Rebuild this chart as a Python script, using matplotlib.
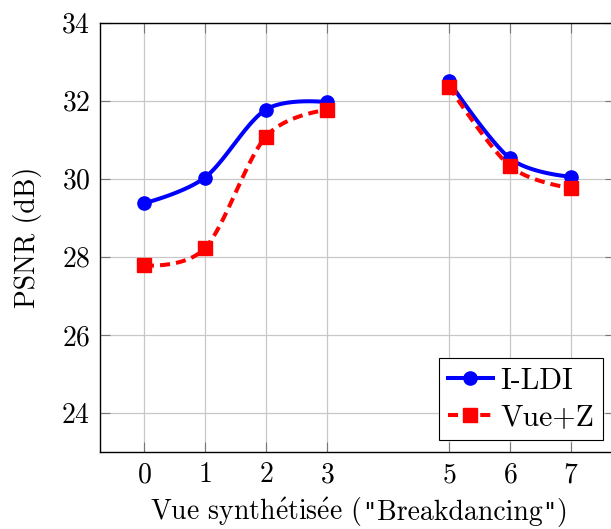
import numpy as np
import matplotlib
matplotlib.use('Agg')
import matplotlib.pyplot as plt
from matplotlib.lines import Line2D
from matplotlib.offsetbox import TextArea, HPacker, AnnotationBbox

plt.rcParams['font.family'] = ['cmr10', 'DejaVu Serif']
plt.rcParams['mathtext.fontset'] = 'cm'
plt.rcParams['axes.formatter.use_mathtext'] = True

# data (two separate segments: views 0-3 and 5-7)
views = [0, 1, 2, 3, 5, 6, 7]
psnr_ildi = [29.37, 30.03, 31.77, 31.96, 32.49, 30.52, 30.05]
psnr_vuez = [27.78, 28.22, 31.08, 31.76, 32.36, 30.32, 29.76]
segments = [(0, 4), (4, 7)]
xticks = [0, 1, 2, 3, 5, 6, 7]
yticks = [24, 26, 28, 30, 32, 34]


def smooth(xs, ys, n=40):
    # tikz-like smooth curve: cubic bezier with catmull-rom tangents
    p = np.column_stack([xs, ys]).astype(float)
    out = []
    t = np.linspace(0, 1, n)[:, None]
    k = 0.16
    for i in range(len(p) - 1):
        p0, p3 = p[i], p[i + 1]
        c1 = p0 + (p3 - p[i - 1]) * k if i > 0 else p0
        c2 = p3 - (p[i + 2] - p0) * k if i + 2 < len(p) else p3
        seg = ((1 - t) ** 3) * p0 + 3 * ((1 - t) ** 2) * t * c1 + 3 * (1 - t) * t ** 2 * c2 + t ** 3 * p3
        out.append(seg)
    c = np.vstack(out)
    return c[:, 0], c[:, 1]


fig = plt.figure(figsize=(6.11, 5.29), dpi=100)
ax = fig.add_axes([100 / 611, 77 / 529, 515 / 611, 429.5 / 529])

series = [
    (psnr_ildi, 'I-LDI', 'blue', 'o', '-'),
    (psnr_vuez, 'Vue+Z', 'red', 's', '--'),
]
for vals, lab, col, mk, ls in series:
    for a, b in segments:
        sx, sy = smooth(views[a:b], vals[a:b])
        line, = ax.plot(sx, sy, color=col, lw=2.9, ls=ls, zorder=3)
        if ls == '--':
            line.set_dashes((2.5, 1.5))
    ax.plot(views, vals, ls='none', marker=mk, color=col, ms=9.5, zorder=4)

ax.set_xlim(-0.72, 7.72)
ax.set_ylim(23, 34)
ax.set_xticks(xticks)
ax.set_yticks(yticks)
ax.grid(True, color='#c8c8c8', lw=0.9)
ax.set_axisbelow(True)
ax.tick_params(direction='in', length=7, width=0.8, color='#777777',
               labelsize=20, top=True, right=True, pad=7)
for s in ax.spines.values():
    s.set_linewidth(1.0)
ax.set_ylabel('PSNR (dB)', fontsize=20, labelpad=14)

# x label built from pieces so the quotes can be straight ones
cm = dict(fontsize=20, family='cmr10')
qt = dict(fontsize=17, family='DejaVu Sans Mono')
pieces = [
    TextArea('Vue synth$\\mathrm{\\acute{e}}$tis$\\mathrm{\\acute{e}}$e (', textprops=cm),
    TextArea('"', textprops=qt),
    TextArea('Breakdancing', textprops=cm),
    TextArea('"', textprops=qt),
    TextArea(')', textprops=cm),
]
xlab = HPacker(children=pieces, sep=0, pad=0, align='baseline')
ab = AnnotationBbox(xlab, (359 / 611, 17 / 529), xycoords='figure fraction',
                    box_alignment=(0.5, 0.5), frameon=False, pad=0)
fig.add_artist(ab)

handles = [
    Line2D([], [], color='blue', lw=2.9, marker='o', ms=9.5),
    Line2D([], [], color='red', lw=2.9, ls=(0, (2.5, 1.5)), marker='s', ms=9.5),
]
leg = ax.legend(handles, ['I-LDI', 'Vue+Z'], loc='lower right',
                bbox_to_anchor=(603 / 611, 89 / 529), bbox_transform=fig.transFigure,
                fontsize=21.5, fancybox=False, edgecolor='black', framealpha=1,
                handlelength=1.5, borderpad=0.3, labelspacing=0.3, handletextpad=0.25,
                borderaxespad=0)
leg.get_frame().set_linewidth(0.8)

fig.savefig('out.png', dpi=100)
